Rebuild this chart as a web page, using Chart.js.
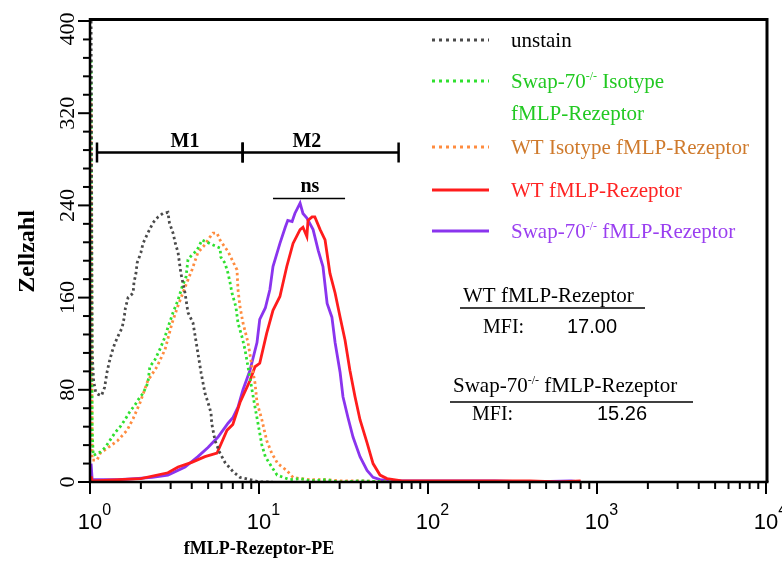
<!DOCTYPE html>
<html>
<head>
<meta charset="utf-8">
<script src="https://cdn.jsdelivr.net/npm/chart.js@4.4.1/dist/chart.umd.min.js"></script>
<style>
  html, body { margin: 0; padding: 0; background: #fff; }
</style>
</head>
<body>
<canvas id="chart" width="782" height="561"></canvas>
<script>
// histogram counts, [fluorescence, cells]
const unstain = [
    [1.015, 400], [1.03, 112], [1.05, 88], [1.08, 78], [1.12, 76], [1.17, 75], [1.22, 82], [1.26, 95],
    [1.30, 104], [1.35, 113], [1.40, 120], [1.47, 127], [1.55, 134], [1.59, 142], [1.62, 151], [1.68, 160],
    [1.80, 164], [1.82, 173], [1.87, 181], [1.90, 190], [2.00, 199], [2.06, 207], [2.20, 216], [2.36, 225],
    [2.53, 230], [2.70, 233], [2.89, 234], [2.95, 225], [3.10, 216], [3.20, 207], [3.32, 199], [3.45, 181],
    [3.65, 164], [3.80, 147], [4.07, 138], [4.35, 112], [4.54, 95], [4.79, 77], [4.99, 69], [5.20, 60],
    [5.25, 51], [5.49, 36], [5.88, 25], [6.29, 17], [7.02, 9], [7.72, 4], [8.85, 2], [10.1, 0], [12, 0]
];
const swapIsotype = [
    [1.015, 366], [1.03, 45], [1.045, 23], [1.15, 26], [1.23, 30], [1.31, 36], [1.41, 43], [1.51, 48],
    [1.61, 54], [1.72, 61], [1.85, 67], [1.92, 71], [2.06, 77], [2.20, 86], [2.26, 100], [2.42, 106],
    [2.59, 115], [2.78, 126], [2.89, 134], [3.10, 147], [3.32, 158], [3.50, 169], [3.70, 178], [3.80, 193],
    [4.01, 197], [4.30, 201], [4.60, 210], [4.95, 208], [5.27, 206], [5.88, 203], [5.95, 195], [6.29, 190],
    [6.56, 181], [6.74, 173], [6.92, 164], [7.30, 152], [7.51, 138], [7.93, 126], [8.26, 115], [8.61, 100],
    [9.09, 80], [9.47, 65], [9.86, 51], [10.4, 32], [10.9, 22], [11.9, 13], [12.8, 6], [13.9, 4],
    [15.3, 2], [17.5, 3], [20, 1], [25, 2], [30, 0], [40, 1], [60, 0]
];
const wtIsotype = [
    [1.015, 329], [1.03, 19], [1.10, 19], [1.15, 25], [1.23, 28], [1.31, 31], [1.46, 36], [1.66, 45],
    [1.80, 55], [1.98, 69], [2.20, 88], [2.49, 100], [2.78, 115], [3.06, 138], [3.30, 152], [3.65, 169],
    [4.01, 184], [4.35, 199], [4.79, 206], [5.10, 212], [5.34, 216], [5.64, 216], [5.88, 210], [6.20, 205],
    [6.56, 200], [6.92, 193], [7.41, 184], [7.51, 167], [7.72, 152], [8.04, 138], [8.61, 121], [9.09, 100],
    [9.47, 86], [9.73, 69], [10.4, 54], [11.1, 36], [11.9, 25], [12.9, 16], [14.6, 10], [15.9, 4],
    [17.5, 3], [20, 2], [25, 2], [30, 1], [40, 1], [60, 0]
];
const wtReceptor = [
    [1.015, 5], [1.03, 1], [1.5, 2], [2.0, 3], [2.89, 8], [3.32, 13], [4.0, 17], [4.79, 22],
    [5.64, 25], [6.47, 45], [7.0, 50], [7.72, 69], [8.85, 88], [9.47, 100], [10.1, 103], [11.1, 129],
    [12.1, 149], [13.3, 161], [14.6, 187], [15.9, 207], [17.5, 219], [18.2, 221], [19.2, 213], [19.5, 227],
    [20.6, 230], [21.4, 230], [23.0, 219], [24.6, 210], [26.3, 181], [28.2, 164], [30.2, 143], [32.3, 123],
    [34.5, 97], [37.0, 74], [39.6, 54], [43.6, 34], [47.3, 16], [52.0, 6], [57.2, 3], [70, 1],
    [100, 1], [200, 1], [400, 1], [600, 0], [800, 1]
];
const swapReceptor = [
    [1.015, 16], [1.03, 2], [1.46, 2], [1.85, 3], [2.33, 4], [2.89, 6], [3.65, 13], [4.35, 22],
    [4.99, 30], [5.72, 39], [6.56, 51], [7.02, 56], [7.51, 65], [8.04, 80], [8.85, 97], [9.73, 121],
    [10.1, 141], [10.9, 151], [11.6, 167], [12.1, 187], [13.3, 207], [14.3, 221], [14.8, 227], [15.7, 226],
    [16.3, 233], [17.5, 242], [18.2, 233], [19.2, 229], [20.9, 219], [22.4, 201], [23.9, 187], [25.3, 155],
    [27.0, 143], [28.2, 121], [30.2, 95], [31.4, 74], [33.6, 56], [36.0, 39], [39.6, 22], [43.6, 10],
    [47.3, 4], [52.0, 2], [70, 1], [100, 1], [150, 1], [250, 1], [400, 0], [700, 1], [800, 0]
];

const seriesNames = [
    'unstain',
    'Swap-70^{-/-} Isotype\nfMLP-Rezeptor',
    'WT Isotype fMLP-Rezeptor',
    'WT fMLP-Rezeptor',
    'Swap-70^{-/-} fMLP-Rezeptor',
];
const xDecades = [1, 10, 100, 1000, 10000];
const xExponents = ['0', '1', '2', '3', '4'];
const yLabels = [0, 80, 160, 240, 320, 400];
const mfiTitles = ['WT fMLP-Rezeptor', 'Swap-70^{-/-} fMLP-Rezeptor'];
const mfiValues = ['17.00', '15.26'];
// marker gates: name, from, to, where the name sits
const gates = [['M1', 1.1, 8.0, 3.65], ['M2', 8.0, 67, 19.2]];
const gateLevel = 286;
const nsBar = [12.1, 32.3, 20, 246];

const SERIF = '"Liberation Serif", "Times New Roman", serif';
const SANS = '"Liberation Sans", Arial, sans-serif';

const pts = arr => arr.map(([x, y]) => ({x, y}));

// draws text with ^{...} as superscript
const rich = (ctx, str, x, y, size, color, align) => {
    const parts = str.split(/\^\{([^}]*)\}/);
    let w = 0;
    const segs = parts.map((t, i) => {
        const sup = i % 2 === 1;
        const f = (sup ? Math.round(size * 0.55) : size) + 'px ' + SERIF;
        ctx.font = f;
        const m = ctx.measureText(t).width;
        w += m;
        return {t, sup, f, m};
    });
    let cx = align === 'center' ? x - w / 2 : x;
    ctx.fillStyle = color;
    ctx.textAlign = 'left';
    ctx.textBaseline = 'alphabetic';
    segs.forEach(s => {
        ctx.font = s.f;
        ctx.fillText(s.t, cx, s.sup ? y - size * 0.4 : y);
        cx += s.m;
    });
    return w;
};

const legendRows = [40, 81, 147, 190, 231];
const legendText = ['#000', '#22c922', '#cf7a2c', '#ff2424', '#9a3ff0'];

const deco = {
    id: 'deco',
    afterDatasetsDraw(chart) {
        const {ctx, chartArea: a, scales: {x, y}} = chart;
        ctx.save();
        ctx.strokeStyle = '#000';
        ctx.fillStyle = '#000';

        // frame
        ctx.lineWidth = 3;
        ctx.beginPath();
        ctx.moveTo(a.left, a.top - 1.5);
        ctx.lineTo(a.right + 1, a.top - 1.5);
        ctx.lineTo(a.right + 1, a.bottom);
        ctx.stroke();
        ctx.lineWidth = 2.5;
        ctx.beginPath();
        ctx.moveTo(a.left, a.top - 3);
        ctx.lineTo(a.left, a.bottom);
        ctx.lineTo(a.right + 2.5, a.bottom);
        ctx.stroke();

        // y ticks + rotated labels
        ctx.lineWidth = 2;
        y.ticks.forEach(t => {
            const py = y.getPixelForValue(t.value);
            const major = yLabels.includes(t.value);
            ctx.beginPath();
            ctx.moveTo(a.left - (major ? 12 : 7), py);
            ctx.lineTo(a.left, py);
            ctx.stroke();
        });
        ctx.font = '22px ' + SERIF;
        ctx.textAlign = 'center';
        ctx.textBaseline = 'middle';
        yLabels.forEach(v => {
            ctx.save();
            ctx.translate(68, y.getPixelForValue(v) + (v === 400 ? 8 : 0));
            ctx.rotate(-Math.PI / 2);
            ctx.fillText(String(v), 0, 0);
            ctx.restore();
        });

        // x ticks (log decades with minor ticks)
        xDecades.forEach((d, i) => {
            const mant = i < xDecades.length - 1 ? [1, 2, 3, 4, 5, 6, 7, 8, 9] : [1];
            mant.forEach(m => {
                const px = x.getPixelForValue(m * d);
                ctx.beginPath();
                ctx.moveTo(px, a.bottom);
                ctx.lineTo(px, a.bottom + (m === 1 ? 12 : 7));
                ctx.stroke();
            });
            const px = x.getPixelForValue(d);
            ctx.font = '22px ' + SANS;
            ctx.textAlign = 'center';
            ctx.textBaseline = 'alphabetic';
            const w = ctx.measureText('10').width;
            ctx.fillText('10', px, 529);
            ctx.font = '16px ' + SANS;
            ctx.textAlign = 'left';
            ctx.fillText(xExponents[i], px + w / 2, 515);
        });

        // axis titles
        ctx.font = 'bold 18px ' + SERIF;
        ctx.textAlign = 'center';
        ctx.fillText('fMLP-Rezeptor-PE', x.getPixelForValue(10), 554);
        ctx.save();
        ctx.translate(28, (a.top + a.bottom) / 2);
        ctx.rotate(-Math.PI / 2);
        ctx.font = 'bold 24px ' + SERIF;
        ctx.textBaseline = 'middle';
        ctx.fillText('Zellzahl', 0, 0);
        ctx.restore();

        // M1 / M2 gates
        const gy = y.getPixelForValue(gateLevel);
        ctx.lineWidth = 2.5;
        gates.forEach(([name, from, to, at]) => {
            const x0 = x.getPixelForValue(from), x1 = x.getPixelForValue(to);
            ctx.beginPath();
            ctx.moveTo(x0, gy); ctx.lineTo(x1, gy);
            ctx.moveTo(x0, gy - 10); ctx.lineTo(x0, gy + 10);
            ctx.moveTo(x1, gy - 10); ctx.lineTo(x1, gy + 10);
            ctx.stroke();
            ctx.font = 'bold 20px ' + SERIF;
            ctx.textAlign = 'center';
            ctx.fillText(name, x.getPixelForValue(at), gy - 5);
        });
        const ny = y.getPixelForValue(nsBar[3]);
        ctx.lineWidth = 1.5;
        ctx.beginPath();
        ctx.moveTo(x.getPixelForValue(nsBar[0]), ny);
        ctx.lineTo(x.getPixelForValue(nsBar[1]), ny);
        ctx.stroke();
        ctx.fillText('ns', x.getPixelForValue(nsBar[2]), ny - 6);

        // legend
        chart.data.datasets.forEach((ds, i) => {
            const ly = legendRows[i];
            ctx.strokeStyle = ds.borderColor;
            ctx.lineWidth = 3;
            ctx.setLineDash(ds.borderDash.length ? [3, 4] : []);
            ctx.beginPath();
            ctx.moveTo(432, ly);
            ctx.lineTo(489, ly);
            ctx.stroke();
            ctx.setLineDash([]);
            ds.label.split('\n').forEach((line, j) => {
                rich(ctx, line, 511, ly + 7 + j * 32, 21, legendText[i], 'left');
            });
        });

        // MFI boxes
        const mfi = [[463, 302, 308, 460, 645, 483, 567], [453, 392, 402, 450, 693, 472, 597]];
        mfi.forEach(([tx, tb, uy, u0, u1, mx, vx], i) => {
            rich(ctx, mfiTitles[i], tx, tb, 21, '#000', 'left');
            ctx.strokeStyle = '#000';
            ctx.lineWidth = 1.5;
            ctx.beginPath();
            ctx.moveTo(u0, uy); ctx.lineTo(u1, uy);
            ctx.stroke();
            ctx.fillStyle = '#000';
            ctx.font = '20px ' + SERIF;
            ctx.textAlign = 'left';
            ctx.fillText('MFI:', mx, tb + (i ? 28 : 31));
            ctx.font = '20px ' + SANS;
            ctx.fillText(mfiValues[i], vx, tb + (i ? 28 : 31));
        });
        ctx.restore();
    }
};

const dotted = (label, data, color) => ({
    label, data: pts(data), borderColor: color, borderWidth: 2.8,
    borderDash: [2.5, 3], pointRadius: 0, tension: 0, fill: false,
});
const solid = (label, data, color) => ({
    label, data: pts(data), borderColor: color, borderWidth: 2.8,
    borderDash: [], pointRadius: 0, tension: 0, fill: false,
});

new Chart(document.getElementById('chart'), {
    type: 'line',
    data: {
        datasets: [
            dotted(seriesNames[0], unstain, '#4a4a4a'),
            dotted(seriesNames[1], swapIsotype, '#2fe02f'),
            dotted(seriesNames[2], wtIsotype, '#ff8c3f'),
            solid(seriesNames[3], wtReceptor, '#ff1c1c'),
            solid(seriesNames[4], swapReceptor, '#8a34ee'),
        ],
    },
    options: {
        responsive: false,
        animation: false,
        devicePixelRatio: 1,
        layout: { padding: { top: 21, right: 16, left: 0, bottom: 0 } },
        scales: {
            x: {
                type: 'logarithmic',
                min: 1,
                max: 10000,
                grid: { display: false },
                border: { display: false },
                ticks: { display: false },
                afterFit: s => { s.height = 79; },
            },
            y: {
                min: 0,
                max: 400,
                grid: { display: false },
                border: { display: false },
                ticks: { display: false, stepSize: 16 },
                afterFit: s => { s.width = 90; },
            },
        },
        plugins: {
            legend: { display: false },
            tooltip: { enabled: false },
        },
    },
    plugins: [deco],
});
</script>
</body>
</html>
